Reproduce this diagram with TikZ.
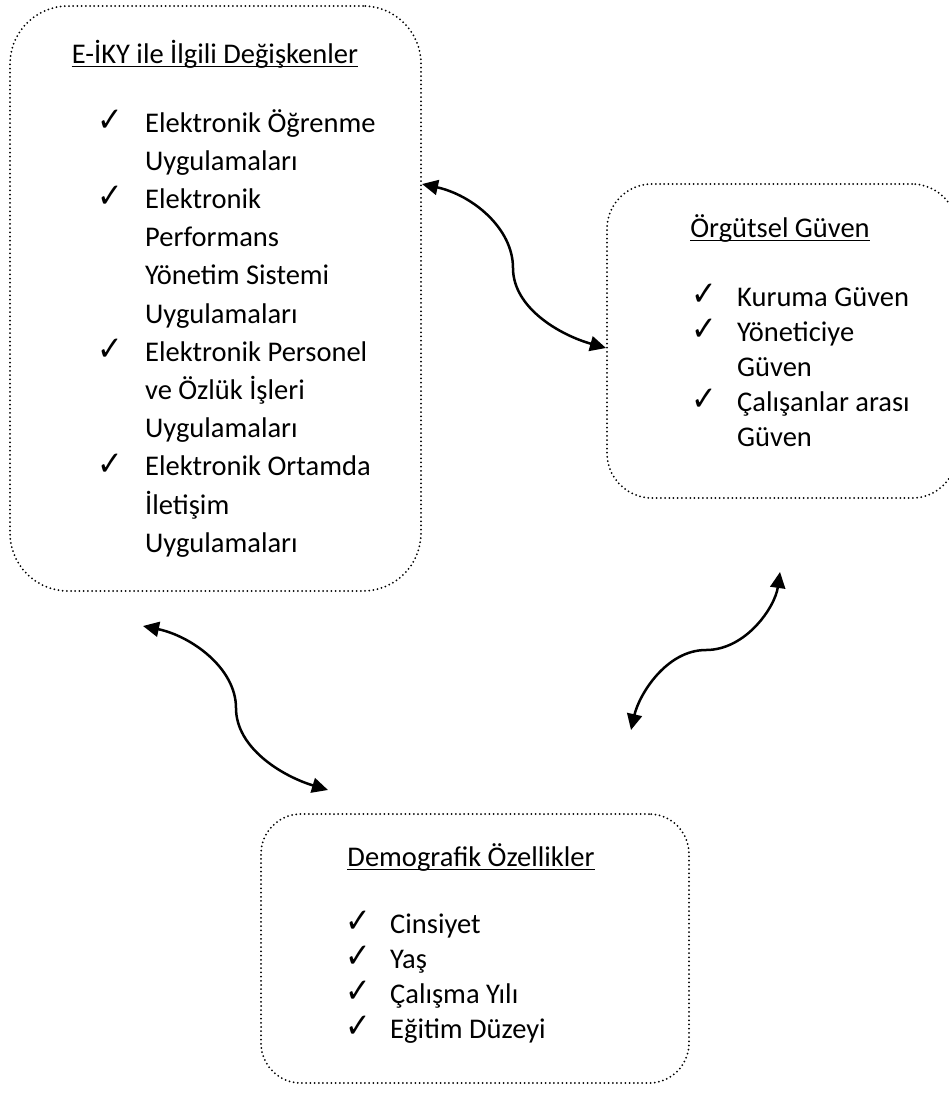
\documentclass[tikz,border=0pt]{standalone}
\usepackage{fontspec}
\setmainfont{Carlito}
\newfontfamily\symfont{DejaVu Sans}
\usetikzlibrary{arrows.meta}
\begin{document}
\begin{tikzpicture}[x=1pt,y=-1pt,
  box/.style={draw, line width=2pt, dash pattern=on 0pt off 4.2pt, line cap=round,
              rounded corners=#1, inner sep=0pt, anchor=north west},
  txt/.style={inner sep=0pt, anchor=base west, font=\fontsize{28.5}{35}\selectfont},
  ttl/.style={inner sep=0pt, anchor=base, font=\fontsize{28.5}{35}\selectfont},
  chk/.style={inner sep=0pt, anchor=base west, font=\symfont\fontsize{34}{34}\selectfont, yshift=0.5pt, xscale=0.9},
  ul/.style={line width=1.4pt},
  conn/.style={line width=2.5pt, {Triangle[length=16pt,width=15pt]}-{Triangle[length=16pt,width=15pt]}}
]
\useasboundingbox (0,0) rectangle (949,1095);

% boxes
\node[box=58, minimum width=411pt, minimum height=585pt] (b1) at (9,5) {};
\node[box=45, minimum width=350pt, minimum height=314pt] (b2) at (606,183) {};
\node[box=40, minimum width=428pt, minimum height=269pt] (b3) at (260,813) {};

% box 1 text
\node[ttl] (t1) at (215,63) {E-İKY ile İlgili Değişkenler};
\draw[ul] ([yshift=-3.5pt]t1.base west) -- ([yshift=-3.5pt]t1.base east);
\node[chk] (c11) at (97,132) {✓};
\node[txt] (l11) at (145,132) {Elektronik Öğrenme};
\node[txt] (l12) at (145,170.2) {Uygulamaları};
\node[chk] (c12) at (97,208.4) {✓};
\node[txt] (l13) at (145,208.4) {Elektronik};
\node[txt] (l14) at (145,246.6) {Performans};
\node[txt] (l15) at (145,284.8) {Yönetim Sistemi};
\node[txt] (l16) at (145,323) {Uygulamaları};
\node[chk] (c13) at (97,361.2) {✓};
\node[txt] (l17) at (145,361.2) {Elektronik Personel};
\node[txt] (l18) at (145,399.4) {ve Özlük İşleri};
\node[txt] (l19) at (145,437.6) {Uygulamaları};
\node[chk] (c14) at (97,475.8) {✓};
\node[txt] (l110) at (145,475.8) {Elektronik Ortamda};
\node[txt] (l111) at (145,514) {İletişim};
\node[txt] (l112) at (145,552.2) {Uygulamaları};

% box 2 text
\node[ttl] (t2) at (780,237) {Örgütsel Güven};
\draw[ul] ([yshift=-3.5pt]t2.base west) -- ([yshift=-3.5pt]t2.base east);
\node[chk] (c21) at (691,306) {✓};
\node[txt] (l21) at (737,306) {Kuruma Güven};
\node[chk] (c22) at (691,341) {✓};
\node[txt] (l22) at (737,341) {Yöneticiye};
\node[txt] (l23) at (737,376) {Güven};
\node[chk] (c23) at (691,411) {✓};
\node[txt] (l24) at (737,411) {Çalışanlar arası};
\node[txt] (l25) at (737,446) {Güven};

% box 3 text
\node[ttl] (t3) at (471,866) {Demografik Özellikler};
\draw[ul] ([yshift=-3.5pt]t3.base west) -- ([yshift=-3.5pt]t3.base east);
\node[chk] (c31) at (345,933) {✓};
\node[txt] (l31) at (390,933) {Cinsiyet};
\node[chk] (c32) at (345,968) {✓};
\node[txt] (l32) at (390,968) {Yaş};
\node[chk] (c33) at (345,1003) {✓};
\node[txt] (l33) at (390,1003) {Çalışma Yılı};
\node[chk] (c34) at (345,1038) {✓};
\node[txt] (l34) at (390,1038) {Eğitim Düzeyi};

% connector end points
\path (b1.north east) ++(0,179) coordinate (a1s);
\path (b2.north west) ++(0,165) coordinate (a1e);
\coordinate (a1m) at (513,268);
\coordinate (a2s) at (143,626);
\coordinate (a2m) at (236,708);
\coordinate (a2e) at (328,790);
\coordinate (a3s) at (780,572);
\coordinate (a3m) at (706,650);
\coordinate (a3e) at (631,730);

% connectors
\draw[conn] (a1s) .. controls +(50,11) and +(0,-40) .. (a1m)
            .. controls +(0,40) and +(-46,-13) .. (a1e);
\draw[conn] (a2s) .. controls +(48,10) and +(0,-40) .. (a2m)
            .. controls +(0,40) and +(-46,-14) .. (a2e);
\draw[conn] (a3s) .. controls +(-5,35) and +(40,0) .. (a3m)
            .. controls +(-40,0) and +(8,-35) .. (a3e);
\end{tikzpicture}
\end{document}
